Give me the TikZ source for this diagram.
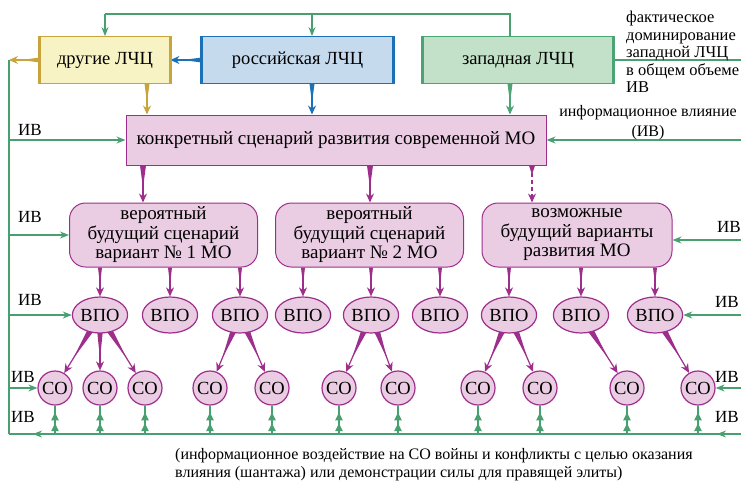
\documentclass[tikz,border=0pt]{standalone}
\usepackage{fontspec}
\setmainfont{Liberation Serif}
\usetikzlibrary{arrows.meta,calc,backgrounds,shapes.geometric,decorations.markings}

\definecolor{ivgreen}{RGB}{72,160,112}
\definecolor{mofill}{RGB}{234,204,227}
\definecolor{moline}{RGB}{158,46,140}
\definecolor{rosfill}{RGB}{198,218,238}
\definecolor{rosline}{RGB}{28,112,182}
\definecolor{drugfill}{RGB}{247,243,196}
\definecolor{drugline}{RGB}{200,165,60}
\definecolor{zapfill}{RGB}{195,225,201}
\definecolor{zapline}{RGB}{76,163,116}

\tikzset{
  lchc/.style={draw,line width=0.8pt,minimum height=47pt,inner sep=0pt,font=\fontsize{18.5}{20}\selectfont},
  mobox/.style={draw=moline,fill=mofill,line width=1pt,inner sep=0pt,align=center,font=\fontsize{19}{19.5}\selectfont},
  vpo/.style={ellipse,draw=moline,fill=mofill,line width=1.2pt,minimum width=55pt,minimum height=36pt,inner sep=0pt,font=\fontsize{18.5}{20}\selectfont},
  co/.style={circle,draw=moline,fill=mofill,line width=1.2pt,minimum size=34pt,inner sep=0pt,font=\fontsize{18.5}{20}\selectfont},
  ivline/.style={color=ivgreen,line width=1.2pt},
  ivarrow/.style={ivline,-{Stealth[length=9pt,width=7pt]}},
  ivup/.style={ivline,postaction={decorate},decoration={markings,
      mark=at position 0.42 with {\arrow{Latex[length=9pt,width=8pt]}},
      mark=at position 0.8 with {\arrow{Latex[length=9pt,width=8pt]}}}},
  ivends/.style={ivline,postaction={decorate},decoration={markings,
      mark=at position 24pt with {\arrow{Stealth[length=9pt,width=7pt]}},
      mark=at position -24pt with {\arrow{Stealth[length=9pt,width=7pt]}}}},
  ivlabel/.style={inner sep=0pt,font=\fontsize{17}{18}\selectfont},
  note/.style={inner sep=0pt,align=left},
}

\newcommand\taper[4][2.5pt]{%
  \fill[#2] ($(#3)!#1!90:(#4)$) -- ($(#3)!#1!-90:(#4)$) -- ($(#3)!0.6!(#4)$) -- cycle;
  \draw[#2,line width=1.2pt,-{Stealth[length=9pt,width=8pt]}] (#3) -- (#4);
}

\begin{document}
\begin{tikzpicture}[x=1pt,y=-1pt]
        \useasboundingbox (0,0) rectangle (741,483);
        \coordinate (tp) at (0,14);
        \coordinate (lt) at (9,60);
        \coordinate (lb) at (9,434);
        \coordinate (rb) at (741,434);
        \coordinate (r3) at (741,240);
        \coordinate (kx1) at (147,0);
        \coordinate (kx2) at (312,0);
        \coordinate (kx3) at (510,0);
        \coordinate (vx1) at (143,0);
        \coordinate (vx2) at (370,0);
        \coordinate (vx3) at (532,0);

        \node[lchc,fill=drugfill,draw=drugline,minimum width=130pt] (drug) at (105,60) {другие ЛЧЦ};
        \node[lchc,fill=rosfill,draw=rosline,minimum width=191pt] (ros) at (297.5,60) {российская ЛЧЦ};
        \node[lchc,fill=zapfill,draw=zapline,minimum width=190pt] (zap) at (518,60) {западная ЛЧЦ};
        \draw[drugline,line width=3pt] (drug.north west) -- (drug.south west) (drug.north east) -- (drug.south east);
        \draw[rosline,line width=3pt] (ros.north west) -- (ros.south west) (ros.north east) -- (ros.south east);
        \draw[zapline,line width=3pt] (zap.north west) -- (zap.south west) (zap.north east) -- (zap.south east);

        \node[mobox,minimum width=420pt,minimum height=50pt] (scen) at (336,140) {конкретный сценарий развития современной МО};

        \node[mobox,rounded corners=16pt,minimum width=188pt,minimum height=64pt] (box1) at (163.5,235) {вероятный\\будущий сценарий\\вариант № 1 МО};
        \node[mobox,rounded corners=16pt,minimum width=188pt,minimum height=64pt] (box2) at (369.5,235) {вероятный\\будущий сценарий\\вариант № 2 МО};
        \node[mobox,rounded corners=16pt,minimum width=190pt,minimum height=64pt] (box3) at (577,235) {возможные\\будущий варианты\\развития МО};

        \node[vpo] (vpo1) at (100,315) {ВПО};
        \node[vpo] (vpo2) at (170,315) {ВПО};
        \node[vpo] (vpo3) at (240,315) {ВПО};
        \node[vpo] (vpo4) at (303,315) {ВПО};
        \node[vpo] (vpo5) at (371,315) {ВПО};
        \node[vpo] (vpo6) at (440,315) {ВПО};
        \node[vpo] (vpo7) at (509,315) {ВПО};
        \node[vpo] (vpo8) at (581,315) {ВПО};
        \node[vpo] (vpo9) at (655,315) {ВПО};

        \node[co] (co1) at (55,388) {СО};
        \node[co] (co2) at (100,388) {СО};
        \node[co] (co3) at (145,388) {СО};
        \node[co] (co4) at (210,388) {СО};
        \node[co] (co5) at (272,388) {СО};
        \node[co] (co6) at (339,388) {СО};
        \node[co] (co7) at (398,388) {СО};
        \node[co] (co8) at (478,388) {СО};
        \node[co] (co9) at (540,388) {СО};
        \node[co] (co10) at (627,388) {СО};
        \node[co] (co11) at (698,388) {СО};

        \node[ivlabel] (iv1) at (30,130) {ИВ};
        \node[ivlabel] (iv2) at (30,217) {ИВ};
        \node[ivlabel] (iv3) at (30,300) {ИВ};
        \node[ivlabel] (iv4) at (23,377) {ИВ};
        \node[ivlabel] (iv5) at (23,417) {ИВ};
        \node[ivlabel] (iv6) at (729,227) {ИВ};
        \node[ivlabel] (iv7) at (727,302) {ИВ};
        \node[ivlabel] (iv8) at (727,377) {ИВ};
        \node[ivlabel] (iv9) at (727,417) {ИВ};
        \node[note,anchor=north west,font=\fontsize{16.5}{17.5}\selectfont] (dom) at (626,11) {фактическое\\доминирование\\западной ЛЧЦ\\в общем объеме\\ИВ};
        \node[note,align=center,font=\fontsize{16}{20}\selectfont] (infl) at (648,123) {информационное влияние\\(ИВ)};
        \node[note,anchor=north west,font=\fontsize{16}{18.5}\selectfont] (war) at (175,448) {(информационное воздействие на СО войны и конфликты с целью оказания\\влияния (шантажа) или демонстрации силы для правящей элиты)};

        \begin{pgfonlayer}{background}
        \draw[ivline] (kx3 |- zap.north) -- (kx3 |- tp) -- (drug.north |- tp);
        \draw[ivarrow] (drug.north |- tp) -- (drug.north);
        \draw[ivarrow] (kx2 |- tp) -- (kx2 |- ros.north);
        \draw[ivline] (zap.east) -- (zap.east -| rb);
        \taper{rosline}{ros.west}{drug.east}
        \taper{drugline}{drug.west}{lt}
        \taper{drugline}{kx1 |- drug.south}{kx1 |- scen.north}
        \taper{rosline}{kx2 |- ros.south}{kx2 |- scen.north}
        \taper{zapline}{kx3 |- zap.south}{kx3 |- scen.north}

        \taper[3pt]{moline}{vx1 |- scen.south}{vx1 |- box1.north}
        \taper[3pt]{moline}{vx2 |- scen.south}{vx2 |- box2.north}
        \fill[moline] ($(vx3 |- scen.south)!3pt!90:(vx3 |- box3.north)$) -- ($(vx3 |- scen.south)!3pt!-90:(vx3 |- box3.north)$) -- ($(vx3 |- scen.south)!0.25!(vx3 |- box3.north)$) -- cycle;
        \draw[moline,line width=1.2pt,dash pattern=on 4pt off 3pt,-{Stealth[length=9pt,width=8pt]}] (vx3 |- scen.south) -- (vx3 |- box3.north);

        \taper[2pt]{moline}{vpo1 |- box1.south}{vpo1.north}
        \taper[2pt]{moline}{vpo2 |- box1.south}{vpo2.north}
        \taper[2pt]{moline}{vpo3 |- box1.south}{vpo3.north}
        \taper[2pt]{moline}{vpo4 |- box2.south}{vpo4.north}
        \taper[2pt]{moline}{vpo5 |- box2.south}{vpo5.north}
        \taper[2pt]{moline}{vpo6 |- box2.south}{vpo6.north}
        \taper[2pt]{moline}{vpo7 |- box3.south}{vpo7.north}
        \taper[2pt]{moline}{vpo8 |- box3.south}{vpo8.north}
        \taper[2pt]{moline}{vpo9 |- box3.south}{vpo9.north}

        \taper[4.5pt]{moline}{vpo1}{co1}
        \taper[4.5pt]{moline}{vpo1}{co2}
        \taper[4.5pt]{moline}{vpo1}{co3}
        \taper[4.5pt]{moline}{vpo3}{co4}
        \taper[4.5pt]{moline}{vpo3}{co5}
        \taper[4.5pt]{moline}{vpo5}{co6}
        \taper[4.5pt]{moline}{vpo5}{co7}
        \taper[4.5pt]{moline}{vpo7}{co8}
        \taper[4.5pt]{moline}{vpo7}{co9}
        \taper[4.5pt]{moline}{vpo8}{co10}
        \taper[4.5pt]{moline}{vpo9}{co11}

        \draw[ivends] (rb) -- (lb);
        \draw[ivline] (lb) -- (lt);
        \draw[ivarrow] (scen.west -| lt) -- (scen.west);
        \draw[ivarrow] (box1.west -| lt) -- (box1.west);
        \draw[ivarrow] (vpo1.west -| lt) -- (vpo1.west);
        \draw[ivarrow] (co1.west -| lt) -- (co1.west);
        \draw[ivarrow] (scen.east -| rb) -- (scen.east);
        \draw[ivarrow] (r3) -- (r3 -| box3.east);
        \draw[ivarrow] (vpo9.east -| rb) -- (vpo9.east);
        \draw[ivarrow] (co11.east -| rb) -- (co11.east);

        \draw[ivup] (co1 |- lb) -- (co1.south);
        \draw[ivup] (co2 |- lb) -- (co2.south);
        \draw[ivup] (co3 |- lb) -- (co3.south);
        \draw[ivup] (co4 |- lb) -- (co4.south);
        \draw[ivup] (co5 |- lb) -- (co5.south);
        \draw[ivup] (co6 |- lb) -- (co6.south);
        \draw[ivup] (co7 |- lb) -- (co7.south);
        \draw[ivup] (co8 |- lb) -- (co8.south);
        \draw[ivup] (co9 |- lb) -- (co9.south);
        \draw[ivup] (co10 |- lb) -- (co10.south);
        \draw[ivup] (co11 |- lb) -- (co11.south);
        \end{pgfonlayer}
\end{tikzpicture}
\end{document}
